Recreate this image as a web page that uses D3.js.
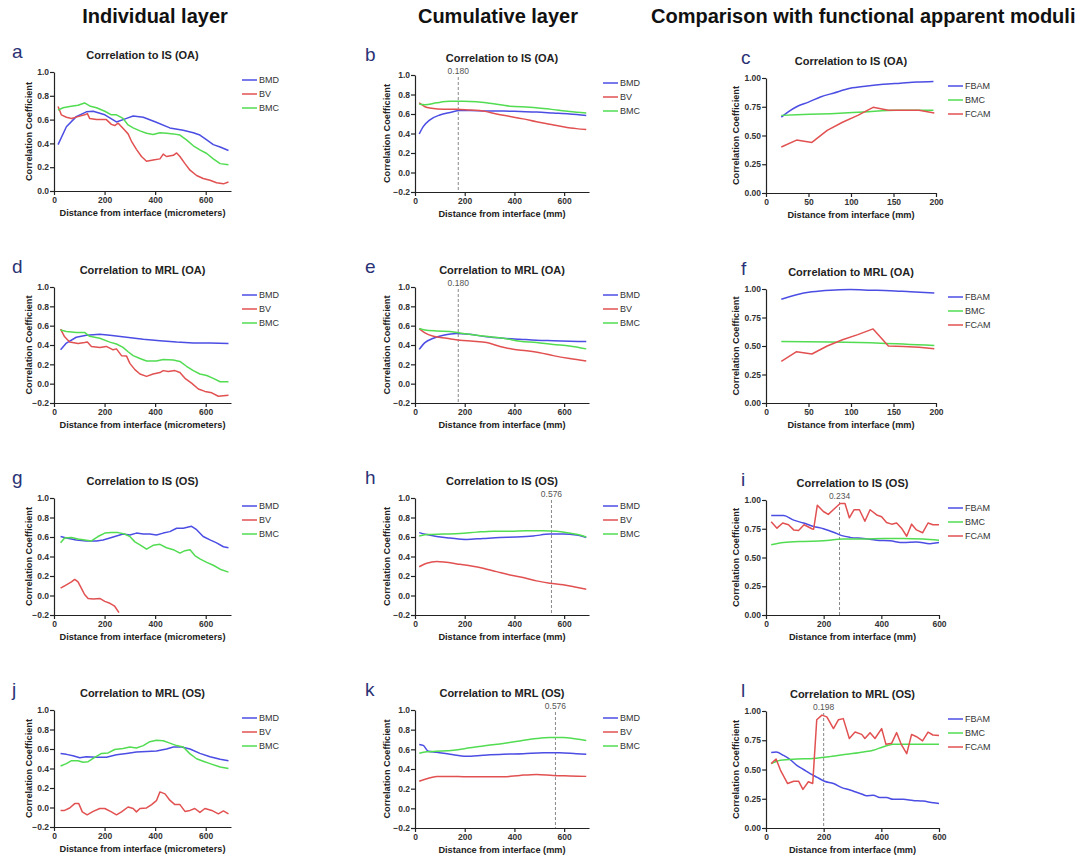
<!DOCTYPE html>
<html>
<head>
<meta charset="utf-8">
<script src="https://cdn.jsdelivr.net/npm/d3@7"></script>
<style>
  body { margin: 0; background: #fff; }
  svg { display: block; font-family: "Liberation Sans", Arial, sans-serif; }
  .axis path, .axis line { stroke: #222; stroke-width: 1.2; }
  .axis text { font-size: 8.5px; font-weight: bold; fill: #333; font-family: "Liberation Sans", Arial, sans-serif; }
  .title { font-size: 11px; font-weight: bold; fill: #222; }
  .axis-label { font-size: 9.2px; font-weight: bold; fill: #222; }
  .legend text { font-size: 9px; fill: #333; }
  .letter { font-size: 19px; fill: #2a3275; }
  .header { font-size: 20px; font-weight: bold; fill: #111; }
  .cut text { font-size: 8.5px; fill: #555; }
</style>
</head>
<body>
<div id="chart"></div>
<script>
// --- data (x = distance, y = correlation coefficient) ---
const a_BMD = [[16,0.39],[49,0.54],[88,0.625],[128,0.665],[155,0.67],[201,0.64],[247,0.58],[287,0.61],[313,0.63],[353,0.62],[402,0.58],[458,0.53],[511,0.51],[551,0.49],[577,0.47],[604,0.43],[630,0.39],[657,0.37],[690,0.34]];
const a_BV = [[16,0.71],[29,0.64],[49,0.62],[69,0.61],[95,0.625],[121,0.64],[132,0.65],[141,0.61],[168,0.60],[207,0.60],[227,0.56],[240,0.55],[254,0.57],[267,0.54],[280,0.51],[293,0.48],[306,0.42],[326,0.35],[346,0.29],[366,0.25],[392,0.26],[419,0.27],[432,0.31],[445,0.29],[472,0.30],[485,0.32],[498,0.29],[518,0.23],[538,0.175],[564,0.13],[590,0.105],[617,0.09],[643,0.07],[670,0.06],[690,0.075]];
const a_BMC = [[16,0.68],[36,0.70],[62,0.71],[95,0.72],[121,0.74],[141,0.715],[168,0.70],[201,0.67],[227,0.64],[247,0.64],[273,0.61],[293,0.555],[313,0.53],[340,0.505],[366,0.485],[392,0.475],[419,0.49],[445,0.485],[472,0.48],[498,0.47],[524,0.43],[551,0.38],[577,0.345],[604,0.315],[630,0.27],[657,0.23],[690,0.22]];

const d_BMD = [[26,0.35],[49,0.42],[88,0.48],[128,0.50],[181,0.51],[221,0.50],[287,0.48],[353,0.46],[419,0.445],[485,0.43],[551,0.42],[617,0.42],[690,0.415]];
const d_BV = [[26,0.565],[42,0.485],[62,0.43],[95,0.415],[121,0.425],[132,0.43],[148,0.385],[181,0.375],[207,0.385],[234,0.35],[247,0.36],[267,0.29],[287,0.285],[300,0.21],[320,0.145],[340,0.10],[366,0.075],[392,0.10],[419,0.115],[432,0.135],[452,0.125],[478,0.135],[498,0.115],[518,0.055],[544,0.005],[571,-0.055],[597,-0.08],[624,-0.095],[650,-0.13],[690,-0.12]];
const d_BMC = [[26,0.555],[49,0.54],[88,0.53],[121,0.53],[141,0.49],[181,0.47],[221,0.43],[247,0.41],[273,0.375],[293,0.33],[313,0.29],[340,0.26],[366,0.235],[405,0.235],[432,0.25],[472,0.245],[498,0.23],[524,0.18],[551,0.135],[577,0.10],[604,0.085],[630,0.055],[657,0.02],[690,0.02]];

const g_BMD = [[26,0.605],[49,0.59],[88,0.57],[128,0.56],[168,0.56],[194,0.57],[221,0.59],[247,0.61],[273,0.63],[300,0.62],[326,0.64],[353,0.63],[379,0.63],[405,0.62],[432,0.64],[458,0.655],[485,0.69],[511,0.69],[544,0.71],[564,0.675],[590,0.605],[617,0.57],[643,0.54],[670,0.50],[690,0.49]];
const g_BV = [[26,0.075],[49,0.11],[69,0.14],[82,0.165],[95,0.14],[108,0.075],[121,0.01],[135,-0.03],[155,-0.035],[181,-0.03],[201,-0.06],[221,-0.08],[240,-0.11],[257,-0.175]];
const g_BMC = [[26,0.54],[42,0.59],[69,0.595],[95,0.58],[121,0.57],[148,0.56],[174,0.605],[201,0.64],[227,0.645],[254,0.645],[280,0.63],[300,0.605],[320,0.55],[340,0.52],[366,0.475],[392,0.515],[419,0.525],[445,0.49],[472,0.47],[498,0.435],[518,0.46],[538,0.47],[557,0.41],[577,0.375],[604,0.34],[630,0.31],[657,0.27],[690,0.24]];

const j_BMD = [[26,0.555],[49,0.545],[75,0.53],[102,0.51],[128,0.52],[168,0.515],[207,0.515],[247,0.54],[287,0.555],[326,0.57],[366,0.575],[405,0.58],[445,0.60],[472,0.62],[505,0.62],[538,0.60],[577,0.555],[617,0.52],[657,0.495],[690,0.48]];
const j_BV = [[26,-0.03],[42,-0.03],[62,-0.005],[82,0.04],[98,0.04],[112,-0.045],[131,-0.075],[155,-0.04],[181,-0.01],[201,-0.01],[227,-0.045],[247,-0.075],[267,-0.045],[293,0.005],[313,-0.01],[326,-0.045],[340,-0.01],[366,-0.005],[386,0.03],[405,0.07],[419,0.16],[439,0.14],[458,0.075],[478,0.03],[498,0.03],[518,-0.04],[538,-0.03],[557,-0.01],[577,-0.05],[597,-0.01],[624,-0.03],[650,-0.065],[670,-0.035],[690,-0.065]];
const j_BMC = [[26,0.425],[49,0.45],[69,0.48],[95,0.48],[115,0.465],[135,0.47],[161,0.515],[188,0.555],[214,0.56],[240,0.595],[273,0.605],[300,0.62],[326,0.61],[353,0.635],[379,0.675],[405,0.69],[432,0.685],[458,0.66],[485,0.635],[511,0.62],[538,0.55],[564,0.50],[590,0.475],[617,0.45],[657,0.415],[690,0.40]];

const b_BMD = [[17,0.395],[33,0.47],[60,0.54],[100,0.59],[141,0.615],[181,0.635],[221,0.635],[288,0.63],[355,0.63],[422,0.625],[489,0.62],[556,0.61],[622,0.60],[689,0.585]];
const b_BV = [[17,0.715],[40,0.675],[67,0.66],[114,0.65],[167,0.65],[221,0.64],[274,0.63],[328,0.60],[382,0.575],[435,0.55],[489,0.52],[542,0.495],[596,0.47],[649,0.45],[689,0.44]];
const b_BMC = [[17,0.70],[40,0.695],[87,0.715],[141,0.73],[194,0.73],[248,0.725],[301,0.71],[382,0.68],[462,0.67],[542,0.65],[622,0.625],[689,0.61]];

const e_BMD = [[17,0.355],[40,0.425],[74,0.47],[114,0.50],[167,0.52],[221,0.51],[288,0.485],[355,0.47],[422,0.46],[489,0.45],[556,0.445],[622,0.44],[689,0.435]];
const e_BV = [[17,0.57],[40,0.525],[74,0.49],[127,0.47],[181,0.45],[234,0.44],[288,0.425],[342,0.385],[395,0.355],[449,0.34],[502,0.32],[556,0.29],[622,0.26],[689,0.235]];
const e_BMC = [[17,0.57],[40,0.555],[87,0.545],[141,0.54],[194,0.52],[248,0.50],[301,0.485],[355,0.47],[422,0.44],[489,0.425],[556,0.405],[622,0.39],[689,0.36]];

const h_BMD = [[17,0.645],[47,0.625],[87,0.605],[141,0.59],[207,0.575],[274,0.585],[342,0.595],[408,0.60],[475,0.61],[542,0.63],[596,0.63],[649,0.62],[689,0.595]];
const h_BV = [[17,0.295],[47,0.33],[87,0.35],[127,0.34],[181,0.32],[221,0.305],[274,0.28],[328,0.245],[382,0.21],[435,0.185],[489,0.15],[542,0.125],[596,0.11],[649,0.085],[689,0.065]];
const h_BMC = [[17,0.61],[47,0.625],[114,0.63],[181,0.635],[248,0.65],[315,0.66],[382,0.66],[449,0.665],[516,0.665],[569,0.66],[622,0.64],[663,0.62],[689,0.60]];

const k_BMD = [[17,0.65],[33,0.64],[54,0.58],[87,0.57],[141,0.55],[207,0.53],[274,0.54],[355,0.55],[435,0.555],[516,0.565],[582,0.565],[649,0.555],[689,0.55]];
const k_BV = [[17,0.275],[47,0.30],[87,0.325],[141,0.325],[207,0.32],[274,0.32],[355,0.32],[422,0.335],[489,0.345],[556,0.335],[622,0.33],[689,0.325]];
const k_BMC = [[17,0.56],[47,0.575],[87,0.58],[154,0.59],[221,0.615],[288,0.64],[355,0.66],[422,0.685],[489,0.71],[542,0.72],[596,0.72],[649,0.705],[689,0.69]];

const c_FBAM = [[18,0.66],[27,0.71],[36,0.75],[50,0.79],[64,0.835],[80,0.87],[99,0.91],[119,0.93],[138,0.945],[158,0.955],[178,0.965],[197,0.97]];
const c_BMC = [[18,0.675],[36,0.68],[76,0.69],[115,0.705],[154,0.72],[197,0.72]];
const c_FCAM = [[18,0.40],[36,0.46],[54,0.44],[72,0.545],[90,0.615],[108,0.675],[126,0.745],[144,0.72],[162,0.72],[180,0.72],[198,0.695]];

const f_FBAM = [[18,0.91],[36,0.95],[54,0.975],[76,0.99],[99,0.995],[123,0.99],[146,0.985],[170,0.975],[198,0.965]];
const f_BMC = [[18,0.54],[76,0.535],[135,0.525],[198,0.505]];
const f_FCAM = [[18,0.365],[36,0.45],[54,0.43],[72,0.50],[90,0.555],[108,0.60],[126,0.65],[144,0.50],[162,0.495],[180,0.49],[198,0.475]];

const i_FBAM = [[18,0.865],[61,0.865],[96,0.825],[130,0.80],[165,0.77],[199,0.75],[234,0.72],[263,0.69],[291,0.675],[338,0.665],[384,0.65],[430,0.645],[476,0.63],[522,0.635],[568,0.62],[600,0.63]];
const i_BMC = [[18,0.61],[61,0.63],[130,0.64],[199,0.645],[268,0.66],[338,0.66],[407,0.665],[476,0.665],[545,0.66],[600,0.65]];
const i_FCAM = [[18,0.81],[38,0.755],[58,0.80],[78,0.785],[96,0.74],[113,0.735],[132,0.785],[159,0.75],[165,0.745],[178,0.955],[199,0.90],[216,0.875],[240,0.93],[257,0.97],[274,0.97],[289,0.845],[305,0.915],[324,0.915],[343,0.815],[361,0.915],[384,0.87],[401,0.855],[418,0.805],[436,0.79],[453,0.80],[470,0.755],[488,0.685],[505,0.79],[522,0.74],[543,0.715],[562,0.80],[579,0.785],[600,0.785]];

const l_FBAM = [[18,0.645],[35,0.65],[61,0.62],[84,0.585],[107,0.535],[130,0.50],[153,0.465],[176,0.435],[203,0.40],[234,0.38],[263,0.345],[291,0.325],[309,0.31],[332,0.29],[349,0.275],[372,0.28],[395,0.26],[418,0.26],[441,0.245],[476,0.245],[510,0.235],[545,0.23],[580,0.215],[600,0.21]];
const l_BMC = [[18,0.55],[50,0.58],[107,0.59],[165,0.595],[222,0.61],[280,0.63],[338,0.65],[372,0.665],[407,0.695],[441,0.715],[487,0.715],[545,0.715],[600,0.715]];
const l_FCAM = [[18,0.55],[35,0.59],[50,0.495],[75,0.38],[96,0.40],[113,0.40],[128,0.33],[147,0.395],[162,0.38],[176,0.925],[194,0.965],[211,0.95],[234,0.85],[251,0.925],[268,0.935],[289,0.765],[309,0.82],[332,0.80],[343,0.765],[361,0.815],[378,0.765],[401,0.85],[416,0.715],[436,0.725],[453,0.815],[470,0.71],[488,0.635],[505,0.80],[522,0.78],[543,0.745],[562,0.82],[579,0.795],[600,0.79]];

// cut-off markers (dashed lines)
const cutX = { b: 174, e: 174, h: 549, k: 565, i: 255, l: 200 };
const cutLabel = { b: "0.180", e: "0.180", h: "0.576", k: "0.576", i: "0.234", l: "0.198" };

const headers = ["Individual layer", "Cumulative layer", "Comparison with functional apparent moduli"];
const ticks700 = [0, 200, 400, 600];
const ticks200 = [0, 50, 100, 150, 200];
const ticksR = [-0.2, 0, 0.2, 0.4, 0.6, 0.8, 1.0];
const ticksP = [0, 0.2, 0.4, 0.6, 0.8, 1.0];
const ticksQ = [0, 0.25, 0.5, 0.75, 1.0];

const colors = { BMD: "#4b4de3", FBAM: "#4b4de3", BV: "#e25151", FCAM: "#e25151", BMC: "#52dc52" };

// --- layout ---
const svg = d3.select("#chart").append("svg")
  .attr("width", 1075)
  .attr("height", 855);

// column headers
svg.append("text").attr("class", "header").attr("x", 155).attr("y", 23).attr("text-anchor", "middle").text(headers[0]);
svg.append("text").attr("class", "header").attr("x", 498).attr("y", 23).attr("text-anchor", "middle").text(headers[1]);
svg.append("text").attr("class", "header").attr("x", 651).attr("y", 23).attr("text-anchor", "start").text(headers[2]);

const micro = "Distance from interface (micrometers)";
const mm = "Distance from interface (mm)";

const col1 = { left: 54, width: 177, xDomain: [0, 700], xTicks: ticks700, xLabel: micro, legX: 242, letterX: 12, curve: d3.curveLinear };
const col2 = { left: 415, width: 174, xDomain: [0, 700], xTicks: ticks700, xLabel: mm, legX: 603, letterX: 365, curve: d3.curveMonotoneX };
const col3a = { left: 766, width: 170, xDomain: [0, 200], xTicks: ticks200, xLabel: mm, legX: 948, letterX: 741, curve: d3.curveMonotoneX };
const col3b = { left: 766, width: 173, xDomain: [0, 600], xTicks: ticks700, xLabel: mm, legX: 948, letterX: 741, curve: d3.curveMonotoneX };

const panels = [
  { id: "a", col: col1, top: 72, bottom: 191, title: "Correlation to IS (OA)", y: [0, 1], yt: ticksP, fmt: ".1f", names: ["BMD", "BV", "BMC"], data: [a_BMD, a_BV, a_BMC] },
  { id: "b", col: col2, top: 75, bottom: 192, title: "Correlation to IS (OA)", y: [-0.2, 1], yt: ticksR, fmt: ".1f", names: ["BMD", "BV", "BMC"], data: [b_BMD, b_BV, b_BMC] },
  { id: "c", col: col3a, top: 78, bottom: 193, title: "Correlation to IS (OA)", y: [0, 1], yt: ticksQ, fmt: ".2f", names: ["FBAM", "BMC", "FCAM"], data: [c_FBAM, c_BMC, c_FCAM] },
  { id: "d", col: col1, top: 287, bottom: 403, title: "Correlation to MRL (OA)", y: [-0.2, 1], yt: ticksR, fmt: ".1f", names: ["BMD", "BV", "BMC"], data: [d_BMD, d_BV, d_BMC] },
  { id: "e", col: col2, top: 287, bottom: 403, title: "Correlation to MRL (OA)", y: [-0.2, 1], yt: ticksR, fmt: ".1f", names: ["BMD", "BV", "BMC"], data: [e_BMD, e_BV, e_BMC] },
  { id: "f", col: col3a, top: 289, bottom: 403, title: "Correlation to MRL (OA)", y: [0, 1], yt: ticksQ, fmt: ".2f", names: ["FBAM", "BMC", "FCAM"], data: [f_FBAM, f_BMC, f_FCAM] },
  { id: "g", col: col1, top: 498, bottom: 615, title: "Correlation to IS (OS)", y: [-0.2, 1], yt: ticksR, fmt: ".1f", names: ["BMD", "BV", "BMC"], data: [g_BMD, g_BV, g_BMC] },
  { id: "h", col: col2, top: 498, bottom: 615, title: "Correlation to IS (OS)", y: [-0.2, 1], yt: ticksR, fmt: ".1f", names: ["BMD", "BV", "BMC"], data: [h_BMD, h_BV, h_BMC] },
  { id: "i", col: col3b, top: 500, bottom: 615, title: "Correlation to IS (OS)", y: [0, 1], yt: ticksQ, fmt: ".2f", names: ["FBAM", "BMC", "FCAM"], data: [i_FBAM, i_BMC, i_FCAM] },
  { id: "j", col: col1, top: 710, bottom: 827, title: "Correlation to MRL (OS)", y: [-0.2, 1], yt: ticksR, fmt: ".1f", names: ["BMD", "BV", "BMC"], data: [j_BMD, j_BV, j_BMC] },
  { id: "k", col: col2, top: 710, bottom: 828, title: "Correlation to MRL (OS)", y: [-0.2, 1], yt: ticksR, fmt: ".1f", names: ["BMD", "BV", "BMC"], data: [k_BMD, k_BV, k_BMC] },
  { id: "l", col: col3b, top: 711, bottom: 828, title: "Correlation to MRL (OS)", y: [0, 1], yt: ticksQ, fmt: ".2f", names: ["FBAM", "BMC", "FCAM"], data: [l_FBAM, l_BMC, l_FCAM] }
];

panels.forEach(p => {
  const c = p.col;
  const x = d3.scaleLinear().domain(c.xDomain).range([c.left, c.left + c.width]);
  const y = d3.scaleLinear().domain(p.y).range([p.bottom, p.top]);
  const g = svg.append("g").attr("class", "panel panel-" + p.id);

  // panel letter + title
  g.append("text").attr("class", "letter").attr("x", c.letterX).attr("y", p.top - 14).text(p.id);
  g.append("text").attr("class", "title")
    .attr("x", c.left + c.width / 2).attr("y", p.top - 13)
    .attr("text-anchor", "middle").text(p.title);

  // clip
  g.append("clipPath").attr("id", "clip-" + p.id)
    .append("rect").attr("x", c.left).attr("y", p.top - 2).attr("width", c.width + 2).attr("height", p.bottom - p.top + 2);

  // dashed cut line
  if (cutX[p.id] !== undefined) {
    const cx = x(cutX[p.id]);
    const cg = g.append("g").attr("class", "cut");
    cg.append("line")
      .attr("x1", cx).attr("x2", cx)
      .attr("y1", p.top + 2).attr("y2", p.bottom)
      .attr("stroke", "#888").attr("stroke-width", 1).attr("stroke-dasharray", "3,2");
    cg.append("text").attr("x", cx).attr("y", p.top - 1)
      .attr("text-anchor", "middle").text(cutLabel[p.id]);
  }

  // series
  const line = d3.line().x(d => x(d[0])).y(d => y(d[1]));
  p.names.forEach((name, i) => {
    line.curve(name === "FCAM" ? d3.curveLinear : c.curve);
    g.append("path")
      .datum(p.data[i])
      .attr("clip-path", `url(#clip-${p.id})`)
      .attr("fill", "none")
      .attr("stroke", colors[name])
      .attr("stroke-width", 1.5)
      .attr("stroke-linejoin", "round")
      .attr("d", line);
  });

  // axes
  g.append("g").attr("class", "axis")
    .attr("transform", `translate(0,${p.bottom})`)
    .call(d3.axisBottom(x).tickValues(c.xTicks).tickSizeInner(4).tickSizeOuter(0).tickPadding(2).tickFormat(d3.format("d")));
  g.append("g").attr("class", "axis")
    .attr("transform", `translate(${c.left},0)`)
    .call(d3.axisLeft(y).tickValues(p.yt).tickSizeInner(4).tickSizeOuter(0).tickPadding(1).tickFormat(d3.format(p.fmt)));

  // axis labels
  g.append("text").attr("class", "axis-label")
    .attr("x", c.left + c.width / 2).attr("y", p.bottom + 25)
    .attr("text-anchor", "middle").text(c.xLabel);
  const yLabX = p.fmt === ".2f" ? c.left - 30 : (c === col1 ? c.left - 25 : c.left - 28);
  g.append("text").attr("class", "axis-label")
    .attr("transform", `translate(${yLabX},${(p.top + p.bottom) / 2}) rotate(-90)`)
    .attr("text-anchor", "middle").attr("dy", "0.35em")
    .text("Correlation Coefficient");

  // legend
  const leg = g.append("g").attr("class", "legend")
    .attr("transform", `translate(${c.legX},${p.top + 8})`);
  p.names.forEach((name, i) => {
    leg.append("line")
      .attr("x1", 0).attr("x2", 15)
      .attr("y1", i * 14).attr("y2", i * 14)
      .attr("stroke", colors[name]).attr("stroke-width", 1.5);
    leg.append("text")
      .attr("x", 17).attr("y", i * 14).attr("dy", "0.35em")
      .text(name);
  });
});
</script>
</body>
</html>
